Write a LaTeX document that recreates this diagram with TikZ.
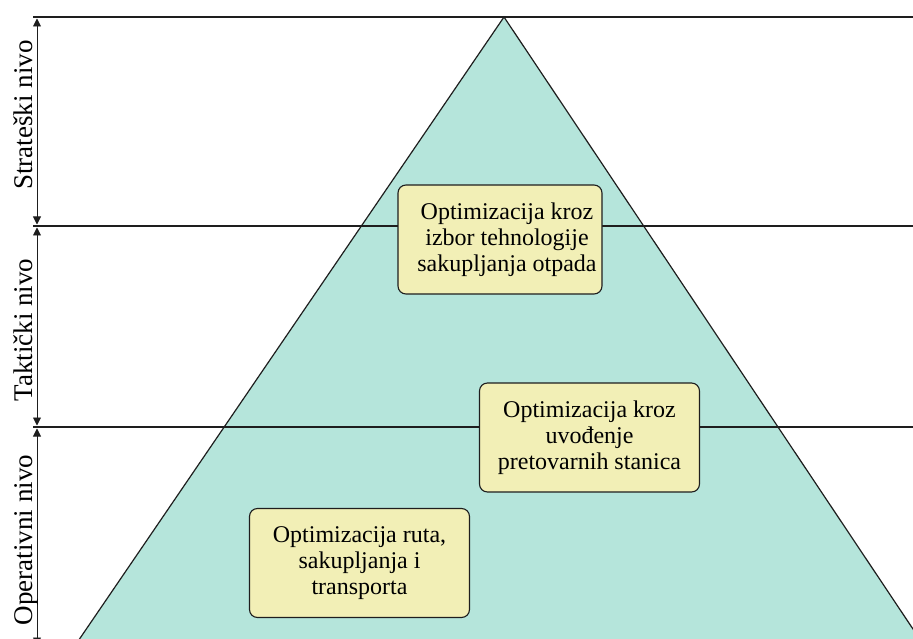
\documentclass[tikz,border=0pt]{standalone}
\usepackage{fontspec}
\setmainfont{Liberation Serif}
\usetikzlibrary{arrows.meta}
\definecolor{pyrteal}{RGB}{181, 229, 219}
\definecolor{boxyellow}{RGB}{242, 239, 182}
\definecolor{edgegray}{RGB}{30, 30, 30}

\begin{document}
\begin{tikzpicture}[x=1pt, y=-1pt,
  optbox/.style={draw=edgegray, fill=boxyellow, rounded corners=8pt, line width=1.1pt, minimum height=109pt, align=center, font=\fontsize{24}{26}\selectfont, inner sep=0pt},
  nivolabel/.style={rotate=90, anchor=base, font=\fontsize{27}{30}\selectfont},
  levelline/.style={line width=1.2pt, edgegray},
  levelarrow/.style={line width=0.9pt, edgegray, shorten >=1.5pt, shorten <=1.5pt, {Triangle[width=8pt,length=8pt]}-{Triangle[width=8pt,length=8pt]}}
]
  \useasboundingbox (0,0) rectangle (913,639);
  \clip (0,0) rectangle (913,639);

  % Pyramid
  \coordinate (apex) at (504,17);
  \coordinate (baseL) at (72,650);
  \coordinate (baseR) at (927,650);
  \fill[pyrteal] (apex) -- (baseL) -- (baseR) -- cycle;
  \draw[levelline] (baseL) -- (apex) -- (baseR);

  % Levels
  \coordinate (topL) at (33,17);   \coordinate (topR) at (913,17);
  \coordinate (midL) at (33,226);  \coordinate (midR) at (913,226);
  \coordinate (lowL) at (33,427);  \coordinate (lowR) at (913,427);
  \coordinate (axTop) at (37,17);
  \coordinate (axMid) at (37,226);
  \coordinate (axLow) at (37,427);
  \coordinate (axEnd) at (37,647);
  \draw[levelline] (topL) -- (topR);
  \draw[levelline] (midL) -- (midR);
  \draw[levelline] (lowL) -- (lowR);
  \draw[levelarrow] (axTop) -- (axMid);
  \draw[levelarrow] (axMid) -- (axLow);
  \draw[levelarrow] (axLow) -- (axEnd);

  % Level names
  \node[nivolabel] (strat) at (32,115) {Strateški nivo};
  \node[nivolabel] (takt) at (32,330) {Taktički nivo};
  \node[nivolabel] (oper) at (32,540) {Operativni nivo};

  % Optimization boxes
  \node[optbox, minimum width=204pt] (tehn) at (500,239.5) {\hspace*{14pt}Optimizacija kroz\\\hspace*{14pt}izbor tehnologije\\\hspace*{14pt}sakupljanja otpada};
  \node[optbox, minimum width=220pt] (stanice) at (589.5,437.5) {Optimizacija kroz\\uvođenje\\pretovarnih stanica};
  \node[optbox, minimum width=220pt] (rute) at (359.5,563) {Optimizacija ruta,\\sakupljanja i\\transporta};
\end{tikzpicture}
\end{document}
